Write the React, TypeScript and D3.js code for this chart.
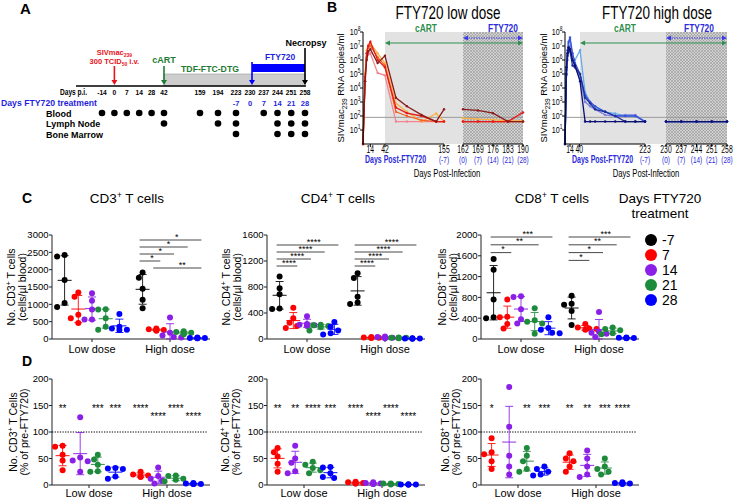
import React from "react";
import * as d3 from "d3";

const FONT = "Arial, 'Liberation Sans', Helvetica, sans-serif";

// ===== Panel A: study design =====
const timelineDays = [-14, 0, 7, 14, 28, 42, 159, 194, 223, 230, 237, 244, 251, 258];
const ftyLabelDays = [223, 230, 237, 244, 251, 258];
const ftyLabels = ["-7", "0", "7", "14", "21", "28"];
const tissues = ["Blood", "Lymph Node", "Bone Marrow"];
const bloodDays = [-14, 0, 7, 14, 28, 42, 159, 194, 223, 237, 244, 251, 258];
const lymphNodeDays = [42, 194, 223, 244, 251, 258];
const boneMarrowDays = [223, 244, 251, 258];

// ===== Panel B: plasma viral loads (copies/ml) =====
const detectionThreshold = 80;
const lowDays1 = [0, 4, 7, 10, 14, 28, 42, 63, 84, 112, 140, 155];
const lowDays2 = [162, 169, 176, 183, 190];
const lowColors = ["#f4858e", "#fbb040", "#f26522", "#e41a1c", "#8b1a1a"];
const lowVL1 = [
  [1, 4e4, 1.3e6, 2.5e6, 3e6, 1.2e5, 8e4, 40, 40, 40, 40, 40],
  [1, 1e5, 5e6, 1.2e7, 1.6e7, 3e6, 6e5, 8e2, 2e2, 40, 1.5e2, 40],
  [1, 3e4, 1.6e6, 8e6, 1e7, 1.6e6, 4e5, 2e2, 1e2, 50, 40, 40],
  [1, 6e4, 3e6, 1e7, 2e7, 1e6, 3e5, 4e2, 1.6e2, 1e2, 40, 40],
  [1, 3e4, 1e6, 4e6, 6e6, 6e5, 2e6, 2e3, 5e2, 1.2e2, 40, 3e2],
];
const lowVL2 = [
  [40, 40, 40, 40, 40],
  [70, 60, 55, 45, 45],
  [40, 40, 40, 40, 40],
  [40, 40, 40, 40, 1.8e2],
  [3e2, 2.5e2, 1.6e2, 40, 40],
];
const highDays1 = [0, 4, 7, 10, 14, 21, 28, 42, 56, 70, 84, 112, 140, 168, 196, 223];
const highDays2 = [230, 237, 244, 251, 258];
const highColors = ["#67a8ec", "#7b7fe0", "#3652d9", "#1f2f98", "#0a1172"];
const highVL1 = [
  [1, 1e5, 3e6, 1.5e7, 3e7, 2e6, 1e6, 5e6, 5e3, 1e3, 4e2, 2e2, 1.5e2, 1e2, 1e2, 40],
  [1, 8e4, 1e6, 5e6, 1e7, 1e6, 3e5, 5e4, 1e3, 5e2, 3e2, 1.2e2, 1e2, 1.2e2, 1.2e2, 40],
  [1, 2e5, 5e6, 2e7, 4e7, 3e6, 6e5, 1e5, 3e3, 1e3, 5e2, 2e2, 1e2, 1e2, 1e2, 40],
  [1, 1e5, 2e6, 5e6, 4e6, 4e5, 3e5, 1e5, 2e3, 8e2, 3e2, 2e2, 1e2, 40, 40, 40],
  [1, 3e5, 3e6, 8e6, 6e6, 1e6, 4e5, 3e4, 40, 40, 40, 40, 40, 40, 40, 40],
];
const highVL2 = [
  [40, 40, 40, 40, 40],
  [40, 40, 40, 40, 40],
  [40, 40, 40, 40, 40],
  [40, 40, 40, 40, 40],
  [40, 40, 40, 40, 40],
];

// ===== Panel C: absolute counts (cells/µl) =====
const doseGroups = ["Low dose", "High dose"];
const dayKeysC = ["-7", "7", "14", "21", "28"];
const dayKeysD = ["7", "14", "21", "28"];
const dayColors: Record<string, string> = { "-7": "#000000", "7": "#ff0000", "14": "#8a1fe8", "21": "#1e8a3c", "28": "#0000ff" };

const cd3Low = [[2380, 2420, 1700, 1035, 920], [1340, 1220, 700, 600, 460], [1320, 1100, 850, 560, 560], [850, 860, 600, 350, 270], [720, 350, 300, 270, 260]];
const cd3High = [[1920, 1770, 1450, 1130, 890], [300, 280, 260, 250, 240], [620, 180, 100, 60, 40], [220, 200, 180, 150, 140], [40, 30, 30, 25, 20]];
const cd4Low = [[960, 780, 460, 470, 690], [480, 320, 250, 200, 170], [350, 230, 220, 210, 200], [220, 210, 200, 180, 130], [260, 190, 130, 90, 70]];
const cd4High = [[1010, 940, 650, 560, 540], [30, 25, 20, 20, 15], [40, 30, 20, 15, 10], [25, 20, 20, 15, 10], [10, 8, 8, 6, 5]];
const cd8Low = [[1540, 1330, 760, 420, 400], [760, 430, 420, 290, 200], [820, 810, 570, 380, 300], [590, 360, 330, 300, 100], [420, 210, 180, 120, 110]];
const cd8High = [[830, 680, 660, 540, 270], [290, 220, 200, 190, 180], [520, 140, 120, 100, 40], [220, 190, 170, 110, 90], [30, 25, 20, 20, 15]];

const cd3Sig = [
  { dose: "High dose", from: "-7", to: "28", label: "*" },
  { dose: "High dose", from: "-7", to: "21", label: "*" },
  { dose: "High dose", from: "-7", to: "14", label: "*" },
  { dose: "High dose", from: "-7", to: "7", label: "*" },
  { dose: "High dose", from: "7", to: "28", label: "**" },
];
const cd4Sig = [
  { dose: "Low dose", from: "-7", to: "28", label: "****" },
  { dose: "Low dose", from: "-7", to: "21", label: "****" },
  { dose: "Low dose", from: "-7", to: "14", label: "****" },
  { dose: "Low dose", from: "-7", to: "7", label: "****" },
  { dose: "High dose", from: "-7", to: "28", label: "****" },
  { dose: "High dose", from: "-7", to: "21", label: "****" },
  { dose: "High dose", from: "-7", to: "14", label: "****" },
  { dose: "High dose", from: "-7", to: "7", label: "****" },
];
const cd8Sig = [
  { dose: "Low dose", from: "-7", to: "28", label: "***" },
  { dose: "Low dose", from: "-7", to: "21", label: "**" },
  { dose: "Low dose", from: "-7", to: "7", label: "*" },
  { dose: "High dose", from: "-7", to: "28", label: "***" },
  { dose: "High dose", from: "-7", to: "21", label: "**" },
  { dose: "High dose", from: "-7", to: "14", label: "*" },
  { dose: "High dose", from: "-7", to: "7", label: "*" },
];

// ===== Panel D: % of pre-FTY720 =====
const cd3PctLow = [[74, 72, 57, 46, 28], [128, 52, 46, 45, 25], [57, 48, 38, 25, 26], [32, 31, 30, 16, 12]];
const cd3PctHigh = [[25, 20, 18, 16, 15], [33, 17, 12, 8, 3], [18, 17, 12, 10, 7], [4, 3, 2, 2, 2]];
const cd4PctLow = [[70, 62, 54, 40, 25], [74, 50, 42, 26, 22], [44, 38, 32, 28, 22], [34, 33, 22, 15, 13]];
const cd4PctHigh = [[6, 5, 4, 3, 3], [5, 4, 3, 2, 2], [3, 3, 2, 2, 1], [1, 1, 1, 1, 1]];
const cd8PctLow = [[88, 62, 58, 45, 30], [185, 110, 55, 35, 20], [70, 55, 45, 30, 25], [35, 30, 25, 20, 18]];
const cd8PctHigh = [[60, 50, 45, 35, 25], [65, 50, 35, 20, 15], [50, 35, 30, 25, 20], [5, 4, 3, 3, 2]];

const cd3PctStars = { low: ["**", "", "***", "***"], high: ["****", "****", "****", "****"] };
const cd3PctRows = { low: [0, 0, 0, 0], high: [0, 1, 0, 1] };
const cd4PctStars = { low: ["**", "**", "****", "***"], high: ["****", "****", "****", "****"] };
const cd4PctRows = { low: [0, 0, 0, 0], high: [0, 1, 0, 1] };
const cd8PctStars = { low: ["*", "", "**", "***"], high: ["**", "**", "***", "****"] };
const cd8PctRows = { low: [0, 0, 0, 0], high: [0, 0, 0, 0] };

// ---------- helpers ----------
function CT({ x, y, sx = 0.74, anchor = "middle", size = 10, weight = "normal", fill = "#000", children }: any) {
  return (
    <text transform={`translate(${x},${y}) scale(${sx},1)`} textAnchor={anchor} fontSize={size} fontWeight={weight} fill={fill}>
      {children}
    </text>
  );
}

function ArrowDown({ x, y1, y2, color, w = 1.6 }: any) {
  return (
    <g>
      <line x1={x} x2={x} y1={y1} y2={y2 - 4} stroke={color} strokeWidth={w} />
      <path d={`M${x - 3},${y2 - 5}L${x + 3},${y2 - 5}L${x},${y2}Z`} fill={color} />
    </g>
  );
}

function HArrow({ x1, x2, y, color, dash }: any) {
  return (
    <g>
      <line x1={x1 + 3} x2={x2 - 3} y1={y} y2={y} stroke={color} strokeWidth={1.2} strokeDasharray={dash} />
      <path d={`M${x1},${y}L${x1 + 5},${y - 2.5}L${x1 + 5},${y + 2.5}Z`} fill={color} />
      <path d={`M${x2},${y}L${x2 - 5},${y - 2.5}L${x2 - 5},${y + 2.5}Z`} fill={color} />
    </g>
  );
}

function swarm(vals: number[], y: (v: number) => number, r: number) {
  const order = d3.range(vals.length).sort((a, b) => vals[b] - vals[a]);
  const placed: { x: number; y: number }[] = [];
  const res: number[] = new Array(vals.length).fill(0);
  const cands = [0, -1, 1, -2, 2, -3, 3].map((k) => k * r * 1.25);
  for (const i of order) {
    const py = y(vals[i]);
    let dx = 0;
    for (const c of cands) {
      if (placed.every((p) => Math.hypot(p.x - c, p.y - py) >= 2 * r * 0.92)) {
        dx = c;
        break;
      }
    }
    placed.push({ x: dx, y: py });
    res[i] = dx;
  }
  return res;
}

// ---------- Panel A ----------
function PanelA() {
  const slot = d3.scaleLinear().domain([0, 5, 6, 8, 9, 13]).range([102, 164, 200, 236, 250, 305]);
  const tx = (d: number) => slot(timelineDays.indexOf(d));
  const rowY = d3.scalePoint<string>().domain(tissues).range([113, 134]);
  const rows = [bloodDays, lymphNodeDays, boneMarrowDays];
  const lineY = 86;
  const red = "#e8141c", green = "#1e7b34", blue = "#1f1fe0";
  return (
    <g>
      <text x={20} y={14} fontSize={15} fontWeight="bold">A</text>
      <rect x={tx(42)} y={74} width={tx(258) - tx(42)} height={lineY - 74} fill="#cdcdcd" stroke="#9a9a9a" strokeWidth={0.6} />
      <rect x={tx(230) + 2} y={64} width={tx(258) - tx(230) - 2} height={8} fill="#0000ff" />
      <line x1={76} x2={tx(258) + 1} y1={lineY} y2={lineY} stroke="#000" strokeWidth={1.6} />
      <ArrowDown x={tx(0)} y1={66} y2={lineY - 1} color={red} />
      <ArrowDown x={tx(42)} y1={66} y2={lineY - 1} color={green} />
      <ArrowDown x={tx(230) + 2} y1={62} y2={lineY - 1} color="#0000ff" />
      <ArrowDown x={tx(258)} y1={48} y2={lineY - 1} color="#000" />
      <text x={tx(0)} y={55} textAnchor="middle" fill={red} fontWeight="bold" fontSize={7.5}>
        SIVmac<tspan fontSize={5} dy={2}>239</tspan>
      </text>
      <text x={tx(0)} y={64} textAnchor="middle" fill={red} fontWeight="bold" fontSize={7.5}>
        300 TCID<tspan fontSize={5} dy={2}>50</tspan><tspan dy={-2}> i.v.</tspan>
      </text>
      <text x={tx(42)} y={63} textAnchor="middle" fill={green} fontWeight="bold" fontSize={9}>cART</text>
      <text x={210} y={72} textAnchor="middle" fill={green} fontWeight="bold" fontSize={8.7}>TDF-FTC-DTG</text>
      <text x={280} y={60} textAnchor="middle" fill={blue} fontWeight="bold" fontSize={8.5}>FTY720</text>
      <text x={tx(258) + 1} y={46} textAnchor="middle" fontWeight="bold" fontSize={9}>Necropsy</text>
      <text x={60} y={95} fontWeight="bold" fontSize={9} textLength={27} lengthAdjust="spacingAndGlyphs">Days p.i.</text>
      {timelineDays.map((d) => (
        <text key={d} x={tx(d)} y={95} textAnchor="middle" fontWeight="bold" fontSize={6.6}>{d}</text>
      ))}
      <text x={1} y={106} fill={blue} fontWeight="bold" fontSize={8.3} textLength={96} lengthAdjust="spacingAndGlyphs">Days FTY720 treatment</text>
      {ftyLabelDays.map((d, i) => (
        <text key={d} x={tx(d)} y={106} textAnchor="middle" fill={blue} fontWeight="bold" fontSize={7.5}>{ftyLabels[i]}</text>
      ))}
      {tissues.map((t, i) => (
        <g key={t}>
          <text x={46} y={(rowY(t) as number) + 3.5} fontWeight="bold" fontSize={9}>{t}</text>
          {rows[i].map((d) => (
            <circle key={d} cx={tx(d)} cy={rowY(t)} r={3.3} fill="#000" />
          ))}
        </g>
      ))}
    </g>
  );
}

// ---------- Panel B ----------
function ViralPanel(p: any) {
  const x1 = d3.scaleLinear().domain(p.dom1).range(p.rng1);
  const x2 = d3.scaleLinear().domain(p.dom2).range(p.rng2);
  const y = d3.scaleLog().domain([1, 1e8]).range([144, 32]);
  const yTop = 32, yBot = 144;
  const xl = (d: number) => (d < p.dom2[0] ? x1(d) : x2(d));
  const line = d3.line<[number, number]>().x((d) => xl(d[0])).y((d) => y(d[1]));
  const cartStart = x1(42);
  const right = p.rng2[1];
  const hatchStart = x2(p.dom2[0]);
  const green = "#2f8f4e", blue = "#2b2bd9";
  const decades = d3.range(1, 9);
  return (
    <g>
      <CT x={p.titleX} y={18.5} size={17.5} sx={0.77}>{p.title}</CT>
      <rect x={cartStart} y={yTop} width={right - cartStart} height={yBot - yTop} fill="#e2e2e2" />
      <rect x={hatchStart} y={yTop} width={right - hatchStart} height={yBot - yTop} fill="url(#hatch)" />
      <line x1={p.rng1[0]} x2={right} y1={y(detectionThreshold)} y2={y(detectionThreshold)} stroke="#9a9a9a" strokeWidth={1} />
      {p.vl1.map((vals: number[], i: number) => {
        const pts1: [number, number][] = p.days1.map((d: number, j: number) => [d, vals[j]]);
        const pts2: [number, number][] = p.days2.map((d: number, j: number) => [d, p.vl2[i][j]]);
        return (
          <g key={i}>
            <path d={line(pts1) as string} fill="none" stroke={p.colors[i]} strokeWidth={1.3} />
            <path d={line(pts2) as string} fill="none" stroke={p.colors[i]} strokeWidth={1.3} />
            {[...pts1, ...pts2].map((q, k) => (
              <circle key={k} cx={xl(q[0])} cy={y(q[1])} r={1.2} fill={p.colors[i]} />
            ))}
          </g>
        );
      })}
      {/* y axis */}
      <line x1={p.rng1[0]} x2={p.rng1[0]} y1={yTop} y2={yBot} stroke="#000" strokeWidth={1} />
      {decades.map((e) => (
        <g key={e}>
          <line x1={p.rng1[0] - 3} x2={p.rng1[0]} y1={y(Math.pow(10, e))} y2={y(Math.pow(10, e))} stroke="#000" />
          <CT x={p.rng1[0] - 2.5} y={y(Math.pow(10, e)) + 3.3} anchor="end" size={9.5} sx={0.75}>
            10<tspan dy={-4} fontSize={6.5}>{e}</tspan>
          </CT>
        </g>
      ))}
      <text transform={`translate(${p.yTitleX},88) rotate(-90)`} textAnchor="middle" fontSize={9.5}>
        SIVmac<tspan dy={2.5} fontSize={6.5}>239</tspan><tspan dy={-2.5}> RNA copies/ml</tspan>
      </text>
      {/* x axis */}
      <line x1={p.rng1[0]} x2={p.rng1[1]} y1={yBot} y2={yBot} stroke="#000" />
      <line x1={p.rng2[0]} x2={p.rng2[1]} y1={yBot} y2={yBot} stroke="#000" />
      {[...p.ticks1, ...p.ticks2].map((d: number) => (
        <g key={d}>
          <line x1={xl(d)} x2={xl(d)} y1={yBot} y2={yBot + 3} stroke="#000" />
          <CT x={xl(d)} y={152.5} size={10} sx={0.68}>{d}</CT>
        </g>
      ))}
      {p.ftyDays.map((d: number, i: number) => (
        <CT key={d} x={xl(d)} y={163} size={9} sx={0.72} fill={blue}>({ftyLabels[i]})</CT>
      ))}
      <CT x={p.postFtyX} y={163} size={10} sx={0.7} anchor="start" weight="bold" fill={blue}>Days Post-FTY720</CT>
      <CT x={p.postInfX} y={176.5} size={11} sx={0.7}>Days Post-Infection</CT>
      {/* treatment annotations */}
      <CT x={p.cartX} y={32} size={10.5} sx={0.8} weight="bold" fill={green}>cART</CT>
      <CT x={p.ftyX} y={32} size={10.5} sx={0.8} weight="bold" fill={blue}>FTY720</CT>
      <HArrow x1={cartStart} x2={right} y={43} color={green} />
      <HArrow x1={hatchStart} x2={right} y={38} color="#3b3be6" dash="1.5,1" />
    </g>
  );
}

// ---------- Panels C / D ----------
function ScatterPanel(p: any) {
  const y = d3.scaleLinear().domain([0, p.yMax]).range([p.yBottom, p.yTop]);
  const gx = d3.scalePoint<string>().domain(doseGroups).range([p.x0 + p.centers[0], p.x0 + p.centers[1]]);
  const n = p.keys.length;
  const dx = d3.scalePoint<string>().domain(p.keys).range([(-(n - 1) / 2) * p.step, ((n - 1) / 2) * p.step]);
  const X = (dose: string, key: string) => (gx(dose) as number) + (dx(key) as number);
  const xEnd = p.x0 + 158;
  const ticks = d3.range(0, p.yMax + 1, p.yStep);
  const groups = [
    { dose: "Low dose", sets: p.low, key: "low" },
    { dose: "High dose", sets: p.high, key: "high" },
  ];
  const midY = (p.yTop + p.yBottom) / 2;
  const r = 3;
  const levelCount: Record<string, number> = {};
  return (
    <g>
      <line x1={p.x0} x2={p.x0} y1={p.yTop} y2={p.yBottom} stroke="#222" />
      <line x1={p.x0} x2={xEnd} y1={p.yBottom} y2={p.yBottom} stroke="#222" />
      {ticks.map((t: number) => (
        <g key={t}>
          <line x1={p.x0 - 3} x2={p.x0} y1={y(t)} y2={y(t)} stroke="#222" />
          <text x={p.x0 - 3.5} y={y(t) + 3.3} textAnchor="end" fontSize={9.5}>{t}</text>
        </g>
      ))}
      {doseGroups.map((g) => (
        <g key={g}>
          <line x1={gx(g)} x2={gx(g)} y1={p.yBottom} y2={p.yBottom + 3} stroke="#222" />
          <text x={gx(g)} y={p.yBottom + p.labelDy} textAnchor="middle" fontSize={11}>{g}</text>
        </g>
      ))}
      <text transform={`translate(${p.tx[0]},${midY}) rotate(-90)`} textAnchor="middle" fontSize={10.5}>
        {p.title1}<tspan dy={-4} fontSize={7}>+</tspan><tspan dy={4}>{p.title1b}</tspan>
      </text>
      <text transform={`translate(${p.tx[1]},${midY}) rotate(-90)`} textAnchor="middle" fontSize={10.5}>{p.title2}</text>
      {p.refLine && (
        <line x1={p.x0} x2={xEnd - 3} y1={y(100)} y2={y(100)} stroke="#000" strokeWidth={1} strokeDasharray="1.3,1.3" />
      )}
      {groups.map((g) =>
        g.sets.map((vals: number[], i: number) => {
          const key = p.keys[i];
          const cx = X(g.dose, key);
          const col = dayColors[key];
          const m = d3.mean(vals) as number;
          const sd = d3.deviation(vals) as number;
          const lo = Math.max(0, m - sd), hi = m + sd;
          const offs = swarm(vals, y, r);
          return (
            <g key={g.dose + key}>
              <line x1={cx} x2={cx} y1={y(lo)} y2={y(hi)} stroke={col} strokeWidth={1} opacity={0.85} />
              <line x1={cx - 4} x2={cx + 4} y1={y(lo)} y2={y(lo)} stroke={col} strokeWidth={1} opacity={0.85} />
              <line x1={cx - 4} x2={cx + 4} y1={y(hi)} y2={y(hi)} stroke={col} strokeWidth={1} opacity={0.85} />
              <line x1={cx - 7} x2={cx + 7} y1={y(m)} y2={y(m)} stroke={col} strokeWidth={1.1} opacity={0.85} />
              {vals.map((v, k) => (
                <circle key={k} cx={cx + offs[k]} cy={y(v)} r={r} fill={col} />
              ))}
            </g>
          );
        })
      )}
      {(p.sig || []).map((s: any, i: number) => {
        const lvl = levelCount[s.dose] || 0;
        levelCount[s.dose] = lvl + 1;
        const ly = p.sigTop + lvl * p.sigStep;
        const a = X(s.dose, s.from) - 3;
        const b = X(s.dose, s.to) + 4;
        return (
          <g key={i}>
            <line x1={a} x2={b} y1={ly} y2={ly} stroke="#333" strokeWidth={0.9} />
            <text x={(a + b) / 2 + (b - a) * 0.1} y={ly - 0.5} textAnchor="middle" fontSize={9}>{s.label}</text>
          </g>
        );
      })}
      {p.stars &&
        groups.map((g) =>
          p.keys.map((k: string, i: number) => (
            <text key={g.key + k} x={X(g.dose, k)} y={y(150) + 6.5 + p.starRows[g.key][i] * 8} textAnchor="middle" fontSize={10}>
              {p.stars[g.key][i]}
            </text>
          ))
        )}
    </g>
  );
}

function Legend() {
  const y = d3.scalePoint<string>().domain(dayKeysC).range([240, 300]);
  return (
    <g>
      <text x={660} y={203} textAnchor="middle" fontSize={13.5}>Days FTY720</text>
      <text x={660} y={218} textAnchor="middle" fontSize={13.5}>treatment</text>
      {dayKeysC.map((k) => (
        <g key={k}>
          <circle cx={651} cy={y(k)} r={6} fill={dayColors[k]} />
          <text x={662} y={(y(k) as number) + 5} fontSize={14}>{k}</text>
        </g>
      ))}
    </g>
  );
}

function CTitle({ x, cd }: any) {
  return (
    <text x={x} y={203} textAnchor="middle" fontSize={13.5}>
      CD{cd}<tspan dy={-5} fontSize={8.5}>+</tspan><tspan dy={5}> T cells</tspan>
    </text>
  );
}

export default function App() {
  const cBase = { yTop: 235, yBottom: 339, keys: dayKeysC, step: 13.7, centers: [40, 118], labelDy: 14 };
  const dBase = { yTop: 379, yBottom: 485, yMax: 200, yStep: 50, keys: dayKeysD, step: 17.6, centers: [37, 115], labelDy: 12, refLine: true };
  return (
    <svg width={735} height={500} style={{ position: "absolute", left: 0, top: 0, background: "#fff" }} fontFamily={FONT}>
      <defs>
        <pattern id="hatch" width={3} height={3} patternUnits="userSpaceOnUse">
          <rect width={3} height={3} fill="#d2d2d2" />
          <path d="M0,0L3,3M3,0L0,3" stroke="#8c8c8c" strokeWidth={0.5} />
        </pattern>
      </defs>
      <rect width={735} height={500} fill="#fff" />
      <PanelA />
      <text x={327} y={12} fontSize={14} fontWeight="bold">B</text>
      <ViralPanel
        title="FTY720 low dose" titleX={448}
        dom1={[0, 155]} rng1={[363, 444]} dom2={[162, 190]} rng2={[463, 523]}
        days1={lowDays1} days2={lowDays2} vl1={lowVL1} vl2={lowVL2} colors={lowColors}
        ticks1={[14, 42, 155]} ticks2={lowDays2} ftyDays={[155, ...lowDays2]}
        yTitleX={344} cartX={426} ftyX={503} postFtyX={365} postInfX={447}
      />
      <ViralPanel
        title="FTY720 high dose" titleX={657}
        dom1={[0, 223]} rng1={[565, 645]} dom2={[230, 258]} rng2={[666, 727]}
        days1={highDays1} days2={highDays2} vl1={highVL1} vl2={highVL2} colors={highColors}
        ticks1={[14, 40, 223]} ticks2={highDays2} ftyDays={[223, ...highDays2]}
        yTitleX={547} cartX={625} ftyX={699} postFtyX={572} postInfX={646}
      />

      <text x={22} y={203} fontSize={14} fontWeight="bold">C</text>
      <CTitle x={127} cd="3" />
      <CTitle x={338} cd="4" />
      <CTitle x={552} cd="8" />
      <Legend />
      <ScatterPanel {...cBase} x0={52} yMax={3000} yStep={500} low={cd3Low} high={cd3High}
        title1="No. CD3" title1b=" T cells" title2="(cells/µl blood)" tx={[15, 26]}
        sig={cd3Sig} sigTop={240} sigStep={7} />
      <ScatterPanel {...cBase} x0={267} yMax={1600} yStep={400} low={cd4Low} high={cd4High}
        title1="No. CD4" title1b=" T cells" title2="(cells/µl blood)" tx={[230, 241]}
        sig={cd4Sig} sigTop={245} sigStep={7} />
      <ScatterPanel {...cBase} x0={481} yMax={2000} yStep={400} low={cd8Low} high={cd8High}
        title1="No. CD8" title1b=" T cells" title2="(cells/µl blood)" tx={[446, 457]}
        sig={cd8Sig} sigTop={237} sigStep={7.8} />

      <text x={22} y={366} fontSize={14} fontWeight="bold">D</text>
      <ScatterPanel {...dBase} x0={52} low={cd3PctLow} high={cd3PctHigh}
        title1="No. CD3" title1b=" T Cells" title2="(% of pre-FTY720)" tx={[17, 28]}
        stars={cd3PctStars} starRows={cd3PctRows} />
      <ScatterPanel {...dBase} x0={267} low={cd4PctLow} high={cd4PctHigh}
        title1="No. CD4" title1b=" T Cells" title2="(% of pre-FTY720)" tx={[229, 240]}
        stars={cd4PctStars} starRows={cd4PctRows} />
      <ScatterPanel {...dBase} x0={481} low={cd8PctLow} high={cd8PctHigh}
        title1="No. CD8" title1b=" T Cells" title2="(% of pre-FTY720)" tx={[449, 460]}
        stars={cd8PctStars} starRows={cd8PctRows} />
    </svg>
  );
}
